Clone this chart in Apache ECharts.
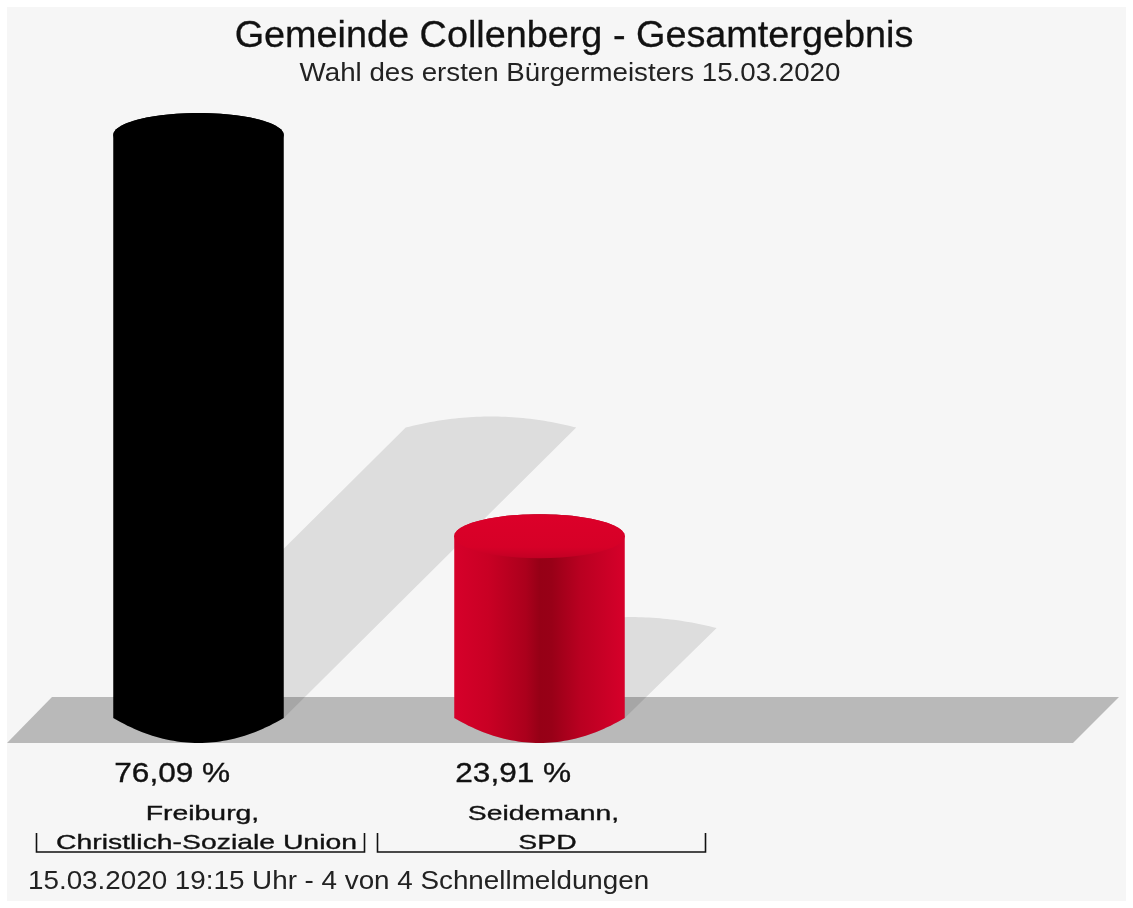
<!DOCTYPE html>
<html>
<head>
<meta charset="utf-8">
<style>html,body{margin:0;padding:0;background:#fff}#c{width:1133px;height:908px}</style>
<script src="https://cdn.jsdelivr.net/npm/echarts@6/dist/echarts.min.js"></script>
</head>
<body>
<div id="c"></div>
<script>
const candidates = ['Freiburg,', 'Seidemann,', ''];
const parties = ['Christlich-Soziale Union', 'SPD', ''];
const shares = [76.09, 23.91];
const titleText = 'Gemeinde Collenberg - Gesamtergebnis';
const subtitleText = 'Wahl des ersten Bürgermeisters 15.03.2020';
const footerText = '15.03.2020 19:15 Uhr - 4 von 4 Schnellmeldungen';

const FONT = '"Liberation Sans", Arial, sans-serif';
const RY = 22;

const fills = [
  { side: [[0,'#000'],[1,'#000']], top: [[0,'#000'],[1,'#000']] },
  { side: [[0,'#d6002a'],[0.2,'#c90024'],[0.42,'#ab001c'],[0.5,'#960016'],[0.57,'#980017'],[0.74,'#b90021'],[1,'#d6002a']],
    top: [[0,'#dc0029'],[0.75,'#d60027'],[1,'#c20024']] }
];

function arc(cx, cy, rx, ry, from, to) {
  const pts = [], n = 48;
  for (let i = 0; i <= n; i++) {
    const a = from + (to - from) * i / n;
    pts.push([cx + rx * Math.cos(a), cy + ry * Math.sin(a)]);
  }
  return pts;
}

// flattened cap: sharp corners at +-rx, bulging by "h" (negative = upwards)
function cap(cx, cy, rx, h, leftToRight) {
  const pts = [], n = 48;
  for (let i = 0; i <= n; i++) {
    const t = (leftToRight ? -1 : 1) * (1 - 2 * i / n);
    pts.push([cx + rx * t, cy + h * (1 - t * t)]);
  }
  return pts;
}

function renderShadow(params, api) {
  const i = api.value(0), v = api.value(1);
  const top = api.coord([i, v]), base = api.coord([i, 0]);
  const rx = api.size([1, 0])[0] / 4;
  const off = (base[1] - top[1]) / 2;
  const bottom = cap(base[0], base[1] - 2, rx, 25, false);
  const upper = cap(base[0] + off, base[1] - off, rx, -11, true);
  return { type: 'polygon', shape: { points: bottom.concat(upper) }, style: { fill: 'rgba(0,0,0,0.1)' } };
}

function renderCylinder(params, api) {
  const i = api.value(0), v = api.value(1);
  const top = api.coord([i, v]), base = api.coord([i, 0]);
  const rx = api.size([1, 0])[0] / 4;
  const f = fills[i];
  const grad = (x2, y2, list) => new echarts.graphic.LinearGradient(0, 0, x2, y2,
    list.map(s => ({ offset: s[0], color: s[1] })));
  const body = arc(top[0], top[1], rx, RY, Math.PI, 2 * Math.PI)
    .concat(cap(base[0], base[1] - 2, rx, 25, false));
  return {
    type: 'group',
    children: [
      { type: 'polygon', shape: { points: body }, style: { fill: grad(1, 0, f.side) } },
      { type: 'polygon', shape: { points: arc(top[0], top[1], rx, RY, 0, 2 * Math.PI) },
        style: { fill: grad(0, 1, f.top) } }
    ]
  };
}

function renderLabels(params, api) {
  const i = api.value(0), v = api.value(1);
  const base = api.coord([i, 0]);
  const rx = api.size([1, 0])[0] / 4;
  const pct = v.toFixed(2).replace('.', ',') + ' %';
  const bl = base[0] - 162, br = base[0] + 166;
  const yb = 852, yt = 833;
  const txt = (s, x, y, size, align, sx) => ({
    type: 'text', x: x, y: y, scaleX: sx, scaleY: 1,
    style: { text: s, x: 0, y: 0, fontFamily: FONT, fontSize: size, fill: '#111', stroke: '#111', lineWidth: 0.35, align: align, verticalAlign: 'middle' }
  });
  return {
    type: 'group',
    children: [
      txt(pct, base[0] - rx + 1, 775, 27, 'left', 1.17),
      txt(candidates[i], base[0] + 4, 814, 21, 'center', 1.35),
      txt(parties[i], base[0] + 8, 843, 21, 'center', 1.35),
      { type: 'polyline', shape: { points: [[bl, yt], [bl, yb], [br, yb], [br, yt]] },
        style: { stroke: '#111', lineWidth: 1.6, fill: null } }
    ]
  };
}

const seriesData = shares.map((v, i) => [i, v]);
const chart = echarts.init(document.getElementById('c'));
chart.setOption({
  animation: false,
  backgroundColor: '#ffffff',
  grid: { left: 28, width: 1023, top: 105, height: 615 },
  xAxis: { type: 'category', data: candidates, show: false },
  yAxis: { type: 'value', min: 0, max: 80, show: false },
  graphic: [
    { type: 'rect', z: -10, shape: { x: 7, y: 7, width: 1119, height: 894 }, style: { fill: '#f6f6f6' } },
    { type: 'polygon', z: -9, shape: { points: [[7, 743], [52, 697], [1119, 697], [1073, 743]] }, style: { fill: '#b9b9b9' } },
    { type: 'text', z: 5, x: 574, y: 37, scaleX: 1.05, style: { text: titleText, fontFamily: FONT, fontSize: 36, fill: '#111', stroke: '#111', lineWidth: 0.3, align: 'center', verticalAlign: 'middle' } },
    { type: 'text', z: 5, x: 570, y: 74, scaleX: 1.065, style: { text: subtitleText, fontFamily: FONT, fontSize: 26, fill: '#222', align: 'center', verticalAlign: 'middle' } },
    { type: 'text', z: 5, x: 28, y: 882, scaleX: 1.069, style: { text: footerText, fontFamily: FONT, fontSize: 26, fill: '#222', align: 'left', verticalAlign: 'middle' } }
  ],
  series: [
    { type: 'custom', name: 'Schatten', z: 2, coordinateSystem: 'cartesian2d', silent: true, clip: false, renderItem: renderShadow, data: seriesData },
    { type: 'custom', name: 'Stimmenanteil', z: 3, coordinateSystem: 'cartesian2d', silent: true, clip: false, renderItem: renderCylinder, data: seriesData },
    { type: 'custom', name: 'Beschriftung', z: 4, coordinateSystem: 'cartesian2d', silent: true, clip: false, renderItem: renderLabels, data: seriesData }
  ]
});
</script>
</body>
</html>
